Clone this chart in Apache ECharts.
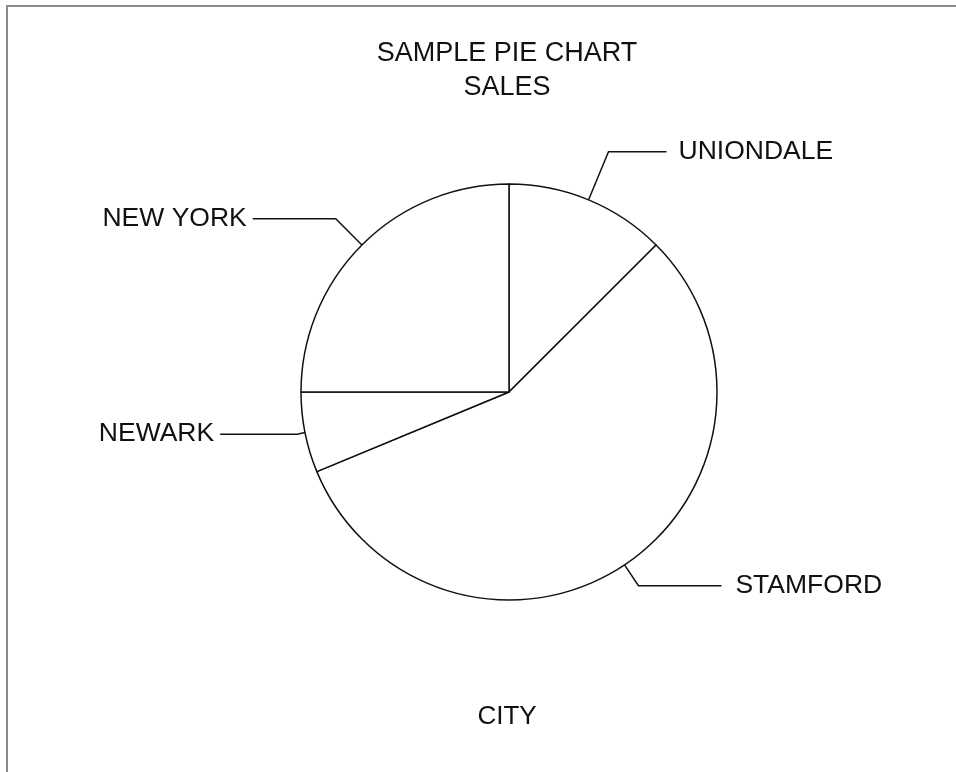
<!DOCTYPE html>
<html>
<head>
<meta charset="utf-8">
<script src="https://cdn.jsdelivr.net/npm/echarts@6/dist/echarts.min.js"></script>
<style>
html,body{margin:0;padding:0;background:#fff;}
#chart{position:absolute;left:0;top:0;width:956px;height:772px;}
#frame{position:absolute;left:6px;top:5px;right:0;bottom:0;border-left:2px solid #8a8a8a;border-top:2px solid #8a8a8a;pointer-events:none;}
</style>
</head>
<body>
<div id="chart"></div>
<div id="frame"></div>
<script>
var titleLines = ['SAMPLE PIE CHART', 'SALES'];
var axisTitle = 'CITY';
var cities = ['UNIONDALE', 'STAMFORD', 'NEWARK', 'NEW YORK'];
var sales = [1000, 4500, 500, 2000];

// leader-line styling per label (lengths in px, not data)
var leaderLen = [52, 25, 8, 37];
var leaderLen2 = [58, 83, 77, 83];
var labelGap = [12, 14, 6, 6];

var FONT = "'Liberation Sans', Arial, sans-serif";
var chart = echarts.init(document.getElementById('chart'), null, {renderer: 'canvas'});
var pieData = cities.map(function (c, i) {
  return {
    name: c, value: sales[i],
    label: {distanceToLabelLine: labelGap[i]},
    labelLine: {length: leaderLen[i], length2: leaderLen2[i]}
  };
});

chart.setOption({
  backgroundColor: '#ffffff',
  animation: false,
  title: [
    {
      text: titleLines.join('\n'),
      left: 502, top: 32, textAlign: 'center',
      textStyle: {fontFamily: FONT, fontSize: 27, fontWeight: 'normal', color: '#111', lineHeight: 34}
    },
    {
      text: axisTitle,
      left: 502, top: 699, textAlign: 'center',
      textStyle: {fontFamily: FONT, fontSize: 26, fontWeight: 'normal', color: '#111'}
    }
  ],
  series: [{
    type: 'pie',
    center: [509, 392],
    radius: 208,
    startAngle: 90,
    clockwise: true,
    avoidLabelOverlap: false,
    data: pieData,
    itemStyle: {color: '#ffffff', borderColor: '#111', borderWidth: 1.5},
    label: {
      show: true, position: 'outside',
      fontFamily: FONT, fontSize: 26.5, color: '#111'
    },
    labelLine: {
      show: true, smooth: false,
      lineStyle: {color: '#111', width: 1.5}
    },
    emphasis: {disabled: true}
  }]
});
</script>
</body>
</html>
